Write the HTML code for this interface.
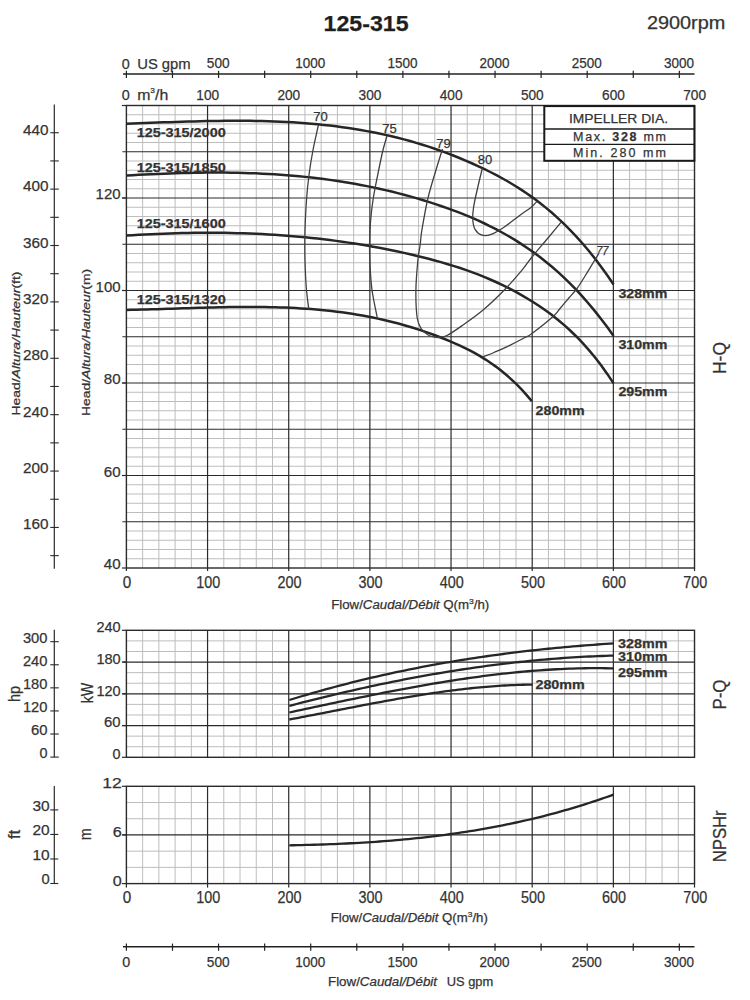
<!DOCTYPE html>
<html><head><meta charset="utf-8"><title>125-315</title>
<style>html,body{margin:0;padding:0;background:#fff;}svg{display:block;font-family:"Liberation Sans", sans-serif;} text{stroke:#333;stroke-width:0.25px;}</style>
</head><body>
<svg width="750" height="1000" viewBox="0 0 750 1000">
<rect width="750" height="1000" fill="#fff"/>
<line x1="142.63" y1="105.50" x2="142.63" y2="568.00" stroke="#bdbdbd" stroke-width="1"/>
<line x1="158.86" y1="105.50" x2="158.86" y2="568.00" stroke="#bdbdbd" stroke-width="1"/>
<line x1="175.10" y1="105.50" x2="175.10" y2="568.00" stroke="#bdbdbd" stroke-width="1"/>
<line x1="191.33" y1="105.50" x2="191.33" y2="568.00" stroke="#bdbdbd" stroke-width="1"/>
<line x1="223.79" y1="105.50" x2="223.79" y2="568.00" stroke="#bdbdbd" stroke-width="1"/>
<line x1="240.02" y1="105.50" x2="240.02" y2="568.00" stroke="#bdbdbd" stroke-width="1"/>
<line x1="256.26" y1="105.50" x2="256.26" y2="568.00" stroke="#bdbdbd" stroke-width="1"/>
<line x1="272.49" y1="105.50" x2="272.49" y2="568.00" stroke="#bdbdbd" stroke-width="1"/>
<line x1="304.95" y1="105.50" x2="304.95" y2="568.00" stroke="#bdbdbd" stroke-width="1"/>
<line x1="321.18" y1="105.50" x2="321.18" y2="568.00" stroke="#bdbdbd" stroke-width="1"/>
<line x1="337.42" y1="105.50" x2="337.42" y2="568.00" stroke="#bdbdbd" stroke-width="1"/>
<line x1="353.65" y1="105.50" x2="353.65" y2="568.00" stroke="#bdbdbd" stroke-width="1"/>
<line x1="386.11" y1="105.50" x2="386.11" y2="568.00" stroke="#bdbdbd" stroke-width="1"/>
<line x1="402.34" y1="105.50" x2="402.34" y2="568.00" stroke="#bdbdbd" stroke-width="1"/>
<line x1="418.58" y1="105.50" x2="418.58" y2="568.00" stroke="#bdbdbd" stroke-width="1"/>
<line x1="434.81" y1="105.50" x2="434.81" y2="568.00" stroke="#bdbdbd" stroke-width="1"/>
<line x1="467.27" y1="105.50" x2="467.27" y2="568.00" stroke="#bdbdbd" stroke-width="1"/>
<line x1="483.50" y1="105.50" x2="483.50" y2="568.00" stroke="#bdbdbd" stroke-width="1"/>
<line x1="499.74" y1="105.50" x2="499.74" y2="568.00" stroke="#bdbdbd" stroke-width="1"/>
<line x1="515.97" y1="105.50" x2="515.97" y2="568.00" stroke="#bdbdbd" stroke-width="1"/>
<line x1="548.43" y1="105.50" x2="548.43" y2="568.00" stroke="#bdbdbd" stroke-width="1"/>
<line x1="564.66" y1="105.50" x2="564.66" y2="568.00" stroke="#bdbdbd" stroke-width="1"/>
<line x1="580.90" y1="105.50" x2="580.90" y2="568.00" stroke="#bdbdbd" stroke-width="1"/>
<line x1="597.13" y1="105.50" x2="597.13" y2="568.00" stroke="#bdbdbd" stroke-width="1"/>
<line x1="629.59" y1="105.50" x2="629.59" y2="568.00" stroke="#bdbdbd" stroke-width="1"/>
<line x1="645.82" y1="105.50" x2="645.82" y2="568.00" stroke="#bdbdbd" stroke-width="1"/>
<line x1="662.06" y1="105.50" x2="662.06" y2="568.00" stroke="#bdbdbd" stroke-width="1"/>
<line x1="678.29" y1="105.50" x2="678.29" y2="568.00" stroke="#bdbdbd" stroke-width="1"/>
<line x1="126.40" y1="558.75" x2="694.52" y2="558.75" stroke="#bdbdbd" stroke-width="1"/>
<line x1="126.40" y1="549.50" x2="694.52" y2="549.50" stroke="#bdbdbd" stroke-width="1"/>
<line x1="126.40" y1="540.25" x2="694.52" y2="540.25" stroke="#bdbdbd" stroke-width="1"/>
<line x1="126.40" y1="531.00" x2="694.52" y2="531.00" stroke="#bdbdbd" stroke-width="1"/>
<line x1="126.40" y1="512.50" x2="694.52" y2="512.50" stroke="#bdbdbd" stroke-width="1"/>
<line x1="126.40" y1="503.25" x2="694.52" y2="503.25" stroke="#bdbdbd" stroke-width="1"/>
<line x1="126.40" y1="494.00" x2="694.52" y2="494.00" stroke="#bdbdbd" stroke-width="1"/>
<line x1="126.40" y1="484.75" x2="694.52" y2="484.75" stroke="#bdbdbd" stroke-width="1"/>
<line x1="126.40" y1="466.25" x2="694.52" y2="466.25" stroke="#bdbdbd" stroke-width="1"/>
<line x1="126.40" y1="457.00" x2="694.52" y2="457.00" stroke="#bdbdbd" stroke-width="1"/>
<line x1="126.40" y1="447.75" x2="694.52" y2="447.75" stroke="#bdbdbd" stroke-width="1"/>
<line x1="126.40" y1="438.50" x2="694.52" y2="438.50" stroke="#bdbdbd" stroke-width="1"/>
<line x1="126.40" y1="420.00" x2="694.52" y2="420.00" stroke="#bdbdbd" stroke-width="1"/>
<line x1="126.40" y1="410.75" x2="694.52" y2="410.75" stroke="#bdbdbd" stroke-width="1"/>
<line x1="126.40" y1="401.50" x2="694.52" y2="401.50" stroke="#bdbdbd" stroke-width="1"/>
<line x1="126.40" y1="392.25" x2="694.52" y2="392.25" stroke="#bdbdbd" stroke-width="1"/>
<line x1="126.40" y1="373.75" x2="694.52" y2="373.75" stroke="#bdbdbd" stroke-width="1"/>
<line x1="126.40" y1="364.50" x2="694.52" y2="364.50" stroke="#bdbdbd" stroke-width="1"/>
<line x1="126.40" y1="355.25" x2="694.52" y2="355.25" stroke="#bdbdbd" stroke-width="1"/>
<line x1="126.40" y1="346.00" x2="694.52" y2="346.00" stroke="#bdbdbd" stroke-width="1"/>
<line x1="126.40" y1="327.50" x2="694.52" y2="327.50" stroke="#bdbdbd" stroke-width="1"/>
<line x1="126.40" y1="318.25" x2="694.52" y2="318.25" stroke="#bdbdbd" stroke-width="1"/>
<line x1="126.40" y1="309.00" x2="694.52" y2="309.00" stroke="#bdbdbd" stroke-width="1"/>
<line x1="126.40" y1="299.75" x2="694.52" y2="299.75" stroke="#bdbdbd" stroke-width="1"/>
<line x1="126.40" y1="281.25" x2="694.52" y2="281.25" stroke="#bdbdbd" stroke-width="1"/>
<line x1="126.40" y1="272.00" x2="694.52" y2="272.00" stroke="#bdbdbd" stroke-width="1"/>
<line x1="126.40" y1="262.75" x2="694.52" y2="262.75" stroke="#bdbdbd" stroke-width="1"/>
<line x1="126.40" y1="253.50" x2="694.52" y2="253.50" stroke="#bdbdbd" stroke-width="1"/>
<line x1="126.40" y1="235.00" x2="694.52" y2="235.00" stroke="#bdbdbd" stroke-width="1"/>
<line x1="126.40" y1="225.75" x2="694.52" y2="225.75" stroke="#bdbdbd" stroke-width="1"/>
<line x1="126.40" y1="216.50" x2="694.52" y2="216.50" stroke="#bdbdbd" stroke-width="1"/>
<line x1="126.40" y1="207.25" x2="694.52" y2="207.25" stroke="#bdbdbd" stroke-width="1"/>
<line x1="126.40" y1="188.75" x2="694.52" y2="188.75" stroke="#bdbdbd" stroke-width="1"/>
<line x1="126.40" y1="179.50" x2="694.52" y2="179.50" stroke="#bdbdbd" stroke-width="1"/>
<line x1="126.40" y1="170.25" x2="694.52" y2="170.25" stroke="#bdbdbd" stroke-width="1"/>
<line x1="126.40" y1="161.00" x2="694.52" y2="161.00" stroke="#bdbdbd" stroke-width="1"/>
<line x1="126.40" y1="142.50" x2="694.52" y2="142.50" stroke="#bdbdbd" stroke-width="1"/>
<line x1="126.40" y1="133.25" x2="694.52" y2="133.25" stroke="#bdbdbd" stroke-width="1"/>
<line x1="126.40" y1="124.00" x2="694.52" y2="124.00" stroke="#bdbdbd" stroke-width="1"/>
<line x1="126.40" y1="114.75" x2="694.52" y2="114.75" stroke="#bdbdbd" stroke-width="1"/>
<line x1="122.40" y1="521.75" x2="694.52" y2="521.75" stroke="#2a2a2a" stroke-width="1.2"/>
<line x1="122.40" y1="475.50" x2="694.52" y2="475.50" stroke="#2a2a2a" stroke-width="1.2"/>
<line x1="122.40" y1="429.25" x2="694.52" y2="429.25" stroke="#2a2a2a" stroke-width="1.2"/>
<line x1="122.40" y1="383.00" x2="694.52" y2="383.00" stroke="#2a2a2a" stroke-width="1.2"/>
<line x1="122.40" y1="336.75" x2="694.52" y2="336.75" stroke="#2a2a2a" stroke-width="1.2"/>
<line x1="122.40" y1="290.50" x2="694.52" y2="290.50" stroke="#2a2a2a" stroke-width="1.2"/>
<line x1="122.40" y1="244.25" x2="694.52" y2="244.25" stroke="#2a2a2a" stroke-width="1.2"/>
<line x1="122.40" y1="198.00" x2="694.52" y2="198.00" stroke="#2a2a2a" stroke-width="1.2"/>
<line x1="122.40" y1="151.75" x2="694.52" y2="151.75" stroke="#2a2a2a" stroke-width="1.2"/>
<line x1="207.56" y1="105.50" x2="207.56" y2="571.00" stroke="#2a2a2a" stroke-width="1.2"/>
<line x1="288.72" y1="105.50" x2="288.72" y2="571.00" stroke="#2a2a2a" stroke-width="1.2"/>
<line x1="369.88" y1="105.50" x2="369.88" y2="571.00" stroke="#2a2a2a" stroke-width="1.2"/>
<line x1="451.04" y1="105.50" x2="451.04" y2="571.00" stroke="#2a2a2a" stroke-width="1.2"/>
<line x1="532.20" y1="105.50" x2="532.20" y2="571.00" stroke="#2a2a2a" stroke-width="1.2"/>
<line x1="613.36" y1="105.50" x2="613.36" y2="571.00" stroke="#2a2a2a" stroke-width="1.2"/>
<rect x="126.40" y="105.50" width="568.12" height="462.50" fill="none" stroke="#2a2a2a" stroke-width="1.4"/>
<line x1="121.90" y1="105.50" x2="126.40" y2="105.50" stroke="#2a2a2a" stroke-width="1.2"/>
<line x1="126.40" y1="568.00" x2="126.40" y2="571.00" stroke="#2a2a2a" stroke-width="1.2"/>
<line x1="694.52" y1="568.00" x2="694.52" y2="571.00" stroke="#2a2a2a" stroke-width="1.2"/>
<path d="M126.40,123.67 L132.57,123.45 L138.73,123.23 L144.90,123.01 L151.07,122.79 L157.24,122.57 L163.40,122.35 L169.57,122.14 L175.74,121.93 L181.90,121.74 L188.07,121.55 L194.24,121.39 L200.41,121.23 L206.57,121.10 L212.74,120.98 L218.91,120.89 L225.07,120.83 L231.24,120.79 L237.41,120.78 L243.57,120.80 L249.74,120.85 L255.91,120.95 L262.08,121.07 L268.24,121.24 L274.41,121.45 L280.58,121.71 L286.74,122.01 L292.91,122.36 L299.08,122.76 L305.25,123.21 L311.41,123.72 L317.58,124.28 L323.75,124.90 L329.91,125.59 L336.08,126.34 L342.25,127.15 L348.42,128.04 L354.58,128.99 L360.75,130.01 L366.92,131.11 L373.08,132.29 L379.25,133.54 L385.42,134.87 L391.58,136.29 L397.75,137.79 L403.92,139.38 L410.09,141.06 L416.25,142.83 L422.42,144.70 L428.59,146.66 L434.75,148.71 L440.92,150.87 L447.09,153.13 L453.26,155.50 L459.42,157.97 L465.59,160.55 L471.76,163.24 L477.92,166.04 L484.09,168.96 L490.26,172.00 L496.43,175.18 L502.59,178.51 L508.76,182.02 L514.93,185.71 L521.09,189.62 L527.26,193.74 L533.43,198.11 L539.59,202.73 L545.76,207.63 L551.93,212.82 L558.10,218.32 L564.26,224.15 L570.43,230.32 L576.60,236.84 L582.76,243.75 L588.93,251.05 L595.10,258.76 L601.27,266.90 L607.43,275.48 L613.60,284.52" fill="none" stroke="#262626" stroke-width="2.5" stroke-linecap="butt"/>
<path d="M126.40,175.58 L132.57,175.22 L138.73,174.87 L144.90,174.54 L151.07,174.24 L157.24,173.95 L163.40,173.69 L169.57,173.45 L175.74,173.24 L181.90,173.05 L188.07,172.89 L194.24,172.76 L200.41,172.67 L206.57,172.60 L212.74,172.57 L218.91,172.57 L225.07,172.60 L231.24,172.68 L237.41,172.79 L243.57,172.94 L249.74,173.13 L255.91,173.36 L262.08,173.64 L268.24,173.96 L274.41,174.33 L280.58,174.74 L286.74,175.20 L292.91,175.71 L299.08,176.27 L305.25,176.88 L311.41,177.55 L317.58,178.27 L323.75,179.04 L329.91,179.87 L336.08,180.76 L342.25,181.71 L348.42,182.72 L354.58,183.79 L360.75,184.92 L366.92,186.12 L373.08,187.38 L379.25,188.72 L385.42,190.11 L391.58,191.58 L397.75,193.12 L403.92,194.73 L410.09,196.41 L416.25,198.17 L422.42,200.00 L428.59,201.91 L434.75,203.90 L440.92,205.96 L447.09,208.11 L453.26,210.35 L459.42,212.69 L465.59,215.14 L471.76,217.72 L477.92,220.42 L484.09,223.26 L490.26,226.26 L496.43,229.41 L502.59,232.74 L508.76,236.24 L514.93,239.93 L521.09,243.83 L527.26,247.93 L533.43,252.27 L539.59,256.85 L545.76,261.68 L551.93,266.79 L558.10,272.18 L564.26,277.88 L570.43,283.89 L576.60,290.23 L582.76,296.91 L588.93,303.95 L595.10,311.36 L601.27,319.15 L607.43,327.35 L613.60,335.96" fill="none" stroke="#262626" stroke-width="2.5" stroke-linecap="butt"/>
<path d="M126.40,235.60 L132.57,235.20 L138.73,234.84 L144.90,234.50 L151.07,234.19 L157.24,233.90 L163.40,233.65 L169.57,233.43 L175.74,233.24 L181.90,233.08 L188.07,232.95 L194.24,232.85 L200.41,232.79 L206.57,232.76 L212.74,232.76 L218.91,232.80 L225.07,232.87 L231.24,232.98 L237.41,233.13 L243.57,233.31 L249.74,233.53 L255.91,233.79 L262.08,234.08 L268.24,234.42 L274.41,234.80 L280.58,235.21 L286.74,235.67 L292.91,236.17 L299.08,236.71 L305.25,237.29 L311.41,237.92 L317.58,238.59 L323.75,239.30 L329.91,240.06 L336.08,240.87 L342.25,241.72 L348.42,242.62 L354.58,243.57 L360.75,244.56 L366.92,245.60 L373.08,246.69 L379.25,247.83 L385.42,249.02 L391.58,250.26 L397.75,251.56 L403.92,252.90 L410.09,254.30 L416.25,255.75 L422.42,257.25 L428.59,258.82 L434.75,260.45 L440.92,262.15 L447.09,263.95 L453.26,265.83 L459.42,267.81 L465.59,269.90 L471.76,272.11 L477.92,274.44 L484.09,276.90 L490.26,279.51 L496.43,282.25 L502.59,285.16 L508.76,288.23 L514.93,291.47 L521.09,294.89 L527.26,298.49 L533.43,302.30 L539.59,306.31 L545.76,310.57 L551.93,315.10 L558.10,319.95 L564.26,325.15 L570.43,330.73 L576.60,336.73 L582.76,343.17 L588.93,350.11 L595.10,357.56 L601.27,365.57 L607.43,374.17 L613.60,383.39" fill="none" stroke="#262626" stroke-width="2.5" stroke-linecap="butt"/>
<path d="M126.40,309.97 L131.53,309.86 L136.66,309.75 L141.79,309.62 L146.93,309.48 L152.06,309.34 L157.19,309.18 L162.32,309.02 L167.45,308.85 L172.58,308.68 L177.72,308.51 L182.85,308.35 L187.98,308.18 L193.11,308.02 L198.24,307.86 L203.37,307.71 L208.51,307.57 L213.64,307.44 L218.77,307.32 L223.90,307.21 L229.03,307.12 L234.16,307.05 L239.30,306.99 L244.43,306.96 L249.56,306.95 L254.69,306.96 L259.82,307.00 L264.95,307.06 L270.09,307.15 L275.22,307.28 L280.35,307.43 L285.48,307.62 L290.61,307.84 L295.74,308.10 L300.88,308.40 L306.01,308.74 L311.14,309.12 L316.27,309.54 L321.40,310.01 L326.53,310.52 L331.67,311.09 L336.80,311.70 L341.93,312.36 L347.06,313.08 L352.19,313.86 L357.32,314.68 L362.46,315.57 L367.59,316.52 L372.72,317.53 L377.85,318.60 L382.98,319.73 L388.11,320.94 L393.25,322.21 L398.38,323.55 L403.51,324.96 L408.64,326.44 L413.77,328.00 L418.90,329.64 L424.04,331.35 L429.17,333.14 L434.30,335.02 L439.43,336.97 L444.56,339.01 L449.69,341.14 L454.83,343.35 L459.96,345.67 L465.09,348.12 L470.22,350.70 L475.35,353.46 L480.48,356.41 L485.62,359.57 L490.75,362.96 L495.88,366.61 L501.01,370.53 L506.14,374.76 L511.27,379.31 L516.41,384.20 L521.54,389.46 L526.67,395.10 L531.80,401.15" fill="none" stroke="#262626" stroke-width="2.5" stroke-linecap="butt"/>
<path d="M318.40,125.00 C316.60,133.33 314.57,141.67 313.00,150.00 C311.43,158.33 310.08,166.67 309.00,175.00 C307.92,183.33 307.17,190.83 306.50,200.00 C305.83,209.17 305.28,221.67 305.00,230.00 C304.72,238.33 304.75,243.33 304.80,250.00 C304.85,256.67 305.02,263.33 305.30,270.00 C305.58,276.67 305.92,283.42 306.50,290.00 C307.08,296.58 308.03,303.00 308.80,309.50" fill="none" stroke="#404040" stroke-width="1.3"/>
<path d="M387.00,136.00 C385.67,140.67 384.38,144.33 383.00,150.00 C381.62,155.67 380.32,162.00 378.70,170.00 C377.08,178.00 374.67,189.33 373.30,198.00 C371.93,206.67 371.12,214.17 370.50,222.00 C369.88,229.83 369.68,237.83 369.60,245.00 C369.52,252.17 369.60,257.50 370.00,265.00 C370.40,272.50 370.78,281.17 372.00,290.00 C373.22,298.83 375.53,308.67 377.30,318.00" fill="none" stroke="#404040" stroke-width="1.3"/>
<path d="M442.50,149.00 C440.33,156.00 438.42,161.83 436.00,170.00 C433.58,178.17 430.35,188.00 428.00,198.00 C425.65,208.00 423.20,222.25 421.90,230.00 C420.60,237.75 420.87,239.50 420.20,244.50 C419.53,249.50 418.62,252.42 417.90,260.00 C417.18,267.58 416.02,280.33 415.90,290.00 C415.78,299.67 416.27,311.50 417.20,318.00 C418.13,324.50 419.53,326.08 421.50,329.00 C423.47,331.92 426.25,334.08 429.00,335.50 C431.75,336.92 435.00,337.50 438.00,337.50 C441.00,337.50 442.88,337.55 447.00,335.50 C451.12,333.45 456.53,329.58 462.70,325.20 C468.87,320.82 476.90,315.23 484.00,309.20 C491.10,303.17 498.90,295.58 505.30,289.00 C511.70,282.42 517.95,275.03 522.40,269.70 C526.85,264.37 527.73,262.28 532.00,257.00 C536.27,251.72 543.17,243.78 548.00,238.00 C552.83,232.22 556.67,227.53 561.00,222.30" fill="none" stroke="#404040" stroke-width="1.3"/>
<path d="M482.40,168.00 C480.80,174.67 479.07,181.47 477.60,188.00 C476.13,194.53 474.40,201.87 473.60,207.20 C472.80,212.53 472.53,216.27 472.80,220.00 C473.07,223.73 473.67,227.07 475.20,229.60 C476.73,232.13 479.33,234.40 482.00,235.20 C484.67,236.00 487.53,235.73 491.20,234.40 C494.87,233.07 499.20,230.40 504.00,227.20 C508.80,224.00 515.47,218.53 520.00,215.20 C524.53,211.87 528.40,209.47 531.20,207.20 C534.00,204.93 534.93,203.47 536.80,201.60" fill="none" stroke="#404040" stroke-width="1.3"/>
<path d="M482.70,357.10 C486.47,355.57 490.00,354.20 494.00,352.50 C498.00,350.80 501.38,349.48 506.70,346.90 C512.02,344.32 521.68,339.22 525.90,337.00 C530.12,334.78 527.57,336.92 532.00,333.60 C536.43,330.28 547.83,321.28 552.50,317.10 C557.17,312.92 557.20,311.77 560.00,308.50 C562.80,305.23 566.47,300.83 569.30,297.50 C572.13,294.17 574.22,292.33 577.00,288.50 C579.78,284.67 583.08,279.17 586.00,274.50 C588.92,269.83 592.47,263.83 594.50,260.50 C596.53,257.17 596.97,256.50 598.20,254.50" fill="none" stroke="#404040" stroke-width="1.3"/>
<text x="320.5" y="121.0" font-size="13" text-anchor="middle" fill="#333">70</text>
<text x="389.5" y="133.0" font-size="13" text-anchor="middle" fill="#333">75</text>
<text x="443.6" y="147.5" font-size="13" text-anchor="middle" fill="#333">79</text>
<text x="485.0" y="163.5" font-size="13" text-anchor="middle" fill="#333">80</text>
<text x="602.3" y="255.3" font-size="13" text-anchor="middle" textLength="12.3" lengthAdjust="spacingAndGlyphs" font-style="italic" fill="#333">77</text>
<text x="136.7" y="136.7" font-size="13" font-weight="bold" textLength="89.0" lengthAdjust="spacingAndGlyphs" fill="#333">125-315/2000</text>
<text x="136.7" y="171.6" font-size="13" font-weight="bold" textLength="89.0" lengthAdjust="spacingAndGlyphs" fill="#333">125-315/1850</text>
<text x="136.7" y="228.2" font-size="13" font-weight="bold" textLength="89.0" lengthAdjust="spacingAndGlyphs" fill="#333">125-315/1600</text>
<text x="136.7" y="303.8" font-size="13" font-weight="bold" textLength="89.0" lengthAdjust="spacingAndGlyphs" fill="#333">125-315/1320</text>
<text x="618.4" y="298.3" font-size="13" font-weight="bold" textLength="49.0" lengthAdjust="spacingAndGlyphs" fill="#333">328mm</text>
<text x="618.4" y="349.1" font-size="13" font-weight="bold" textLength="49.0" lengthAdjust="spacingAndGlyphs" fill="#333">310mm</text>
<text x="618.4" y="395.8" font-size="13" font-weight="bold" textLength="49.0" lengthAdjust="spacingAndGlyphs" fill="#333">295mm</text>
<text x="535.6" y="414.6" font-size="13" font-weight="bold" textLength="49.0" lengthAdjust="spacingAndGlyphs" fill="#333">280mm</text>
<rect x="544.3" y="106.1" width="150.1" height="54.7" fill="#fff" stroke="#1a1a1a" stroke-width="2"/>
<line x1="544.30" y1="129.00" x2="694.40" y2="129.00" stroke="#1a1a1a" stroke-width="1.4"/>
<line x1="544.30" y1="144.40" x2="694.40" y2="144.40" stroke="#1a1a1a" stroke-width="1.4"/>
<text x="569.0" y="122.7" font-size="13" textLength="99.0" lengthAdjust="spacingAndGlyphs" fill="#333">IMPELLER DIA.</text>
<text x="573" y="140.8" font-size="12.5" fill="#333" textLength="93" lengthAdjust="spacing">Max. <tspan font-weight="bold">328</tspan> mm</text>
<text x="573" y="157" font-size="12.5" fill="#333" textLength="93" lengthAdjust="spacing">Min. 280 mm</text>
<line x1="142.63" y1="630.30" x2="142.63" y2="757.30" stroke="#bdbdbd" stroke-width="1"/>
<line x1="158.86" y1="630.30" x2="158.86" y2="757.30" stroke="#bdbdbd" stroke-width="1"/>
<line x1="175.10" y1="630.30" x2="175.10" y2="757.30" stroke="#bdbdbd" stroke-width="1"/>
<line x1="191.33" y1="630.30" x2="191.33" y2="757.30" stroke="#bdbdbd" stroke-width="1"/>
<line x1="223.79" y1="630.30" x2="223.79" y2="757.30" stroke="#bdbdbd" stroke-width="1"/>
<line x1="240.02" y1="630.30" x2="240.02" y2="757.30" stroke="#bdbdbd" stroke-width="1"/>
<line x1="256.26" y1="630.30" x2="256.26" y2="757.30" stroke="#bdbdbd" stroke-width="1"/>
<line x1="272.49" y1="630.30" x2="272.49" y2="757.30" stroke="#bdbdbd" stroke-width="1"/>
<line x1="304.95" y1="630.30" x2="304.95" y2="757.30" stroke="#bdbdbd" stroke-width="1"/>
<line x1="321.18" y1="630.30" x2="321.18" y2="757.30" stroke="#bdbdbd" stroke-width="1"/>
<line x1="337.42" y1="630.30" x2="337.42" y2="757.30" stroke="#bdbdbd" stroke-width="1"/>
<line x1="353.65" y1="630.30" x2="353.65" y2="757.30" stroke="#bdbdbd" stroke-width="1"/>
<line x1="386.11" y1="630.30" x2="386.11" y2="757.30" stroke="#bdbdbd" stroke-width="1"/>
<line x1="402.34" y1="630.30" x2="402.34" y2="757.30" stroke="#bdbdbd" stroke-width="1"/>
<line x1="418.58" y1="630.30" x2="418.58" y2="757.30" stroke="#bdbdbd" stroke-width="1"/>
<line x1="434.81" y1="630.30" x2="434.81" y2="757.30" stroke="#bdbdbd" stroke-width="1"/>
<line x1="467.27" y1="630.30" x2="467.27" y2="757.30" stroke="#bdbdbd" stroke-width="1"/>
<line x1="483.50" y1="630.30" x2="483.50" y2="757.30" stroke="#bdbdbd" stroke-width="1"/>
<line x1="499.74" y1="630.30" x2="499.74" y2="757.30" stroke="#bdbdbd" stroke-width="1"/>
<line x1="515.97" y1="630.30" x2="515.97" y2="757.30" stroke="#bdbdbd" stroke-width="1"/>
<line x1="548.43" y1="630.30" x2="548.43" y2="757.30" stroke="#bdbdbd" stroke-width="1"/>
<line x1="564.66" y1="630.30" x2="564.66" y2="757.30" stroke="#bdbdbd" stroke-width="1"/>
<line x1="580.90" y1="630.30" x2="580.90" y2="757.30" stroke="#bdbdbd" stroke-width="1"/>
<line x1="597.13" y1="630.30" x2="597.13" y2="757.30" stroke="#bdbdbd" stroke-width="1"/>
<line x1="629.59" y1="630.30" x2="629.59" y2="757.30" stroke="#bdbdbd" stroke-width="1"/>
<line x1="645.82" y1="630.30" x2="645.82" y2="757.30" stroke="#bdbdbd" stroke-width="1"/>
<line x1="662.06" y1="630.30" x2="662.06" y2="757.30" stroke="#bdbdbd" stroke-width="1"/>
<line x1="678.29" y1="630.30" x2="678.29" y2="757.30" stroke="#bdbdbd" stroke-width="1"/>
<line x1="126.40" y1="746.72" x2="694.52" y2="746.72" stroke="#bdbdbd" stroke-width="1"/>
<line x1="126.40" y1="736.13" x2="694.52" y2="736.13" stroke="#bdbdbd" stroke-width="1"/>
<line x1="126.40" y1="714.97" x2="694.52" y2="714.97" stroke="#bdbdbd" stroke-width="1"/>
<line x1="126.40" y1="704.38" x2="694.52" y2="704.38" stroke="#bdbdbd" stroke-width="1"/>
<line x1="126.40" y1="683.22" x2="694.52" y2="683.22" stroke="#bdbdbd" stroke-width="1"/>
<line x1="126.40" y1="672.63" x2="694.52" y2="672.63" stroke="#bdbdbd" stroke-width="1"/>
<line x1="126.40" y1="651.47" x2="694.52" y2="651.47" stroke="#bdbdbd" stroke-width="1"/>
<line x1="126.40" y1="640.88" x2="694.52" y2="640.88" stroke="#bdbdbd" stroke-width="1"/>
<line x1="122.40" y1="725.55" x2="694.52" y2="725.55" stroke="#2a2a2a" stroke-width="1.2"/>
<line x1="122.40" y1="693.80" x2="694.52" y2="693.80" stroke="#2a2a2a" stroke-width="1.2"/>
<line x1="122.40" y1="662.05" x2="694.52" y2="662.05" stroke="#2a2a2a" stroke-width="1.2"/>
<line x1="207.56" y1="630.30" x2="207.56" y2="757.30" stroke="#2a2a2a" stroke-width="1.2"/>
<line x1="288.72" y1="630.30" x2="288.72" y2="757.30" stroke="#2a2a2a" stroke-width="1.2"/>
<line x1="369.88" y1="630.30" x2="369.88" y2="757.30" stroke="#2a2a2a" stroke-width="1.2"/>
<line x1="451.04" y1="630.30" x2="451.04" y2="757.30" stroke="#2a2a2a" stroke-width="1.2"/>
<line x1="532.20" y1="630.30" x2="532.20" y2="757.30" stroke="#2a2a2a" stroke-width="1.2"/>
<line x1="613.36" y1="630.30" x2="613.36" y2="757.30" stroke="#2a2a2a" stroke-width="1.2"/>
<rect x="126.40" y="630.30" width="568.12" height="127.00" fill="none" stroke="#2a2a2a" stroke-width="1.4"/>
<path d="M289.30,700.00 L293.41,698.74 L297.52,697.49 L301.63,696.26 L305.74,695.05 L309.85,693.85 L313.96,692.67 L318.07,691.50 L322.18,690.35 L326.29,689.22 L330.40,688.10 L334.51,686.99 L338.62,685.91 L342.73,684.83 L346.84,683.78 L350.95,682.73 L355.06,681.71 L359.17,680.69 L363.28,679.70 L367.39,678.71 L371.50,677.74 L375.61,676.79 L379.72,675.85 L383.83,674.93 L387.94,674.02 L392.05,673.12 L396.16,672.24 L400.27,671.37 L404.38,670.52 L408.49,669.68 L412.60,668.85 L416.71,668.04 L420.82,667.24 L424.93,666.46 L429.04,665.69 L433.15,664.93 L437.26,664.18 L441.37,663.45 L445.48,662.73 L449.59,662.03 L453.71,661.33 L457.82,660.65 L461.93,659.99 L466.04,659.33 L470.15,658.69 L474.26,658.06 L478.37,657.44 L482.48,656.84 L486.59,656.24 L490.70,655.66 L494.81,655.09 L498.92,654.54 L503.03,653.99 L507.14,653.46 L511.25,652.94 L515.36,652.43 L519.47,651.93 L523.58,651.44 L527.69,650.96 L531.80,650.50 L535.91,650.04 L540.02,649.60 L544.13,649.17 L548.24,648.75 L552.35,648.34 L556.46,647.94 L560.57,647.55 L564.68,647.17 L568.79,646.80 L572.90,646.44 L577.01,646.09 L581.12,645.76 L585.23,645.43 L589.34,645.11 L593.45,644.80 L597.56,644.50 L601.67,644.21 L605.78,643.93 L609.89,643.66 L614.00,643.40" fill="none" stroke="#262626" stroke-width="2.3" stroke-linecap="butt"/>
<path d="M289.30,705.90 L293.41,704.83 L297.52,703.76 L301.63,702.70 L305.74,701.66 L309.85,700.62 L313.96,699.59 L318.07,698.57 L322.18,697.56 L326.29,696.56 L330.40,695.57 L334.51,694.59 L338.62,693.61 L342.73,692.65 L346.84,691.70 L350.95,690.76 L355.06,689.83 L359.17,688.91 L363.28,688.00 L367.39,687.10 L371.50,686.21 L375.61,685.33 L379.72,684.47 L383.83,683.61 L387.94,682.77 L392.05,681.93 L396.16,681.11 L400.27,680.30 L404.38,679.49 L408.49,678.70 L412.60,677.93 L416.71,677.16 L420.82,676.41 L424.93,675.66 L429.04,674.93 L433.15,674.21 L437.26,673.50 L441.37,672.81 L445.48,672.12 L449.59,671.45 L453.71,670.79 L457.82,670.15 L461.93,669.51 L466.04,668.89 L470.15,668.28 L474.26,667.69 L478.37,667.10 L482.48,666.53 L486.59,665.98 L490.70,665.43 L494.81,664.90 L498.92,664.38 L503.03,663.88 L507.14,663.39 L511.25,662.91 L515.36,662.44 L519.47,661.99 L523.58,661.56 L527.69,661.13 L531.80,660.73 L535.91,660.33 L540.02,659.95 L544.13,659.58 L548.24,659.23 L552.35,658.89 L556.46,658.57 L560.57,658.26 L564.68,657.97 L568.79,657.69 L572.90,657.42 L577.01,657.17 L581.12,656.94 L585.23,656.72 L589.34,656.51 L593.45,656.32 L597.56,656.15 L601.67,655.99 L605.78,655.84 L609.89,655.71 L614.00,655.60" fill="none" stroke="#262626" stroke-width="2.3" stroke-linecap="butt"/>
<path d="M289.30,712.50 L293.41,711.62 L297.52,710.73 L301.63,709.85 L305.74,708.96 L309.85,708.08 L313.96,707.20 L318.07,706.32 L322.18,705.44 L326.29,704.57 L330.40,703.70 L334.51,702.83 L338.62,701.96 L342.73,701.10 L346.84,700.24 L350.95,699.38 L355.06,698.53 L359.17,697.69 L363.28,696.85 L367.39,696.01 L371.50,695.19 L375.61,694.36 L379.72,693.55 L383.83,692.74 L387.94,691.94 L392.05,691.14 L396.16,690.36 L400.27,689.58 L404.38,688.81 L408.49,688.05 L412.60,687.30 L416.71,686.55 L420.82,685.82 L424.93,685.10 L429.04,684.39 L433.15,683.69 L437.26,683.00 L441.37,682.32 L445.48,681.65 L449.59,680.99 L453.71,680.35 L457.82,679.72 L461.93,679.11 L466.04,678.50 L470.15,677.91 L474.26,677.34 L478.37,676.77 L482.48,676.23 L486.59,675.69 L490.70,675.18 L494.81,674.68 L498.92,674.19 L503.03,673.72 L507.14,673.27 L511.25,672.83 L515.36,672.42 L519.47,672.01 L523.58,671.63 L527.69,671.27 L531.80,670.92 L535.91,670.59 L540.02,670.28 L544.13,670.00 L548.24,669.73 L552.35,669.48 L556.46,669.25 L560.57,669.04 L564.68,668.86 L568.79,668.69 L572.90,668.55 L577.01,668.43 L581.12,668.33 L585.23,668.25 L589.34,668.20 L593.45,668.17 L597.56,668.17 L601.67,668.18 L605.78,668.23 L609.89,668.29 L614.00,668.39" fill="none" stroke="#262626" stroke-width="2.3" stroke-linecap="butt"/>
<path d="M289.30,719.50 L292.38,718.92 L295.46,718.34 L298.54,717.76 L301.61,717.18 L304.69,716.59 L307.77,715.99 L310.85,715.40 L313.93,714.81 L317.01,714.21 L320.08,713.61 L323.16,713.01 L326.24,712.41 L329.32,711.81 L332.40,711.20 L335.48,710.60 L338.56,710.00 L341.63,709.40 L344.71,708.80 L347.79,708.20 L350.87,707.60 L353.95,707.01 L357.03,706.41 L360.11,705.82 L363.18,705.23 L366.26,704.64 L369.34,704.06 L372.42,703.48 L375.50,702.90 L378.58,702.33 L381.65,701.76 L384.73,701.19 L387.81,700.63 L390.89,700.08 L393.97,699.53 L397.05,698.98 L400.13,698.44 L403.20,697.91 L406.28,697.38 L409.36,696.86 L412.44,696.35 L415.52,695.84 L418.60,695.35 L421.67,694.85 L424.75,694.37 L427.83,693.90 L430.91,693.43 L433.99,692.97 L437.07,692.52 L440.15,692.08 L443.22,691.65 L446.30,691.23 L449.38,690.82 L452.46,690.43 L455.54,690.04 L458.62,689.66 L461.69,689.29 L464.77,688.94 L467.85,688.59 L470.93,688.26 L474.01,687.94 L477.09,687.64 L480.17,687.35 L483.24,687.07 L486.32,686.80 L489.40,686.55 L492.48,686.31 L495.56,686.08 L498.64,685.87 L501.72,685.68 L504.79,685.50 L507.87,685.33 L510.95,685.18 L514.03,685.05 L517.11,684.93 L520.19,684.83 L523.26,684.75 L526.34,684.68 L529.42,684.63 L532.50,684.60" fill="none" stroke="#262626" stroke-width="2.3" stroke-linecap="butt"/>
<text x="618.0" y="648.4" font-size="13" font-weight="bold" textLength="49.5" lengthAdjust="spacingAndGlyphs" fill="#333">328mm</text>
<text x="618.0" y="660.6" font-size="13" font-weight="bold" textLength="49.5" lengthAdjust="spacingAndGlyphs" fill="#333">310mm</text>
<text x="618.0" y="676.6" font-size="13" font-weight="bold" textLength="49.5" lengthAdjust="spacingAndGlyphs" fill="#333">295mm</text>
<text x="535.4" y="689.4" font-size="13" font-weight="bold" textLength="49.5" lengthAdjust="spacingAndGlyphs" fill="#333">280mm</text>
<line x1="142.63" y1="786.30" x2="142.63" y2="883.60" stroke="#bdbdbd" stroke-width="1"/>
<line x1="158.86" y1="786.30" x2="158.86" y2="883.60" stroke="#bdbdbd" stroke-width="1"/>
<line x1="175.10" y1="786.30" x2="175.10" y2="883.60" stroke="#bdbdbd" stroke-width="1"/>
<line x1="191.33" y1="786.30" x2="191.33" y2="883.60" stroke="#bdbdbd" stroke-width="1"/>
<line x1="223.79" y1="786.30" x2="223.79" y2="883.60" stroke="#bdbdbd" stroke-width="1"/>
<line x1="240.02" y1="786.30" x2="240.02" y2="883.60" stroke="#bdbdbd" stroke-width="1"/>
<line x1="256.26" y1="786.30" x2="256.26" y2="883.60" stroke="#bdbdbd" stroke-width="1"/>
<line x1="272.49" y1="786.30" x2="272.49" y2="883.60" stroke="#bdbdbd" stroke-width="1"/>
<line x1="304.95" y1="786.30" x2="304.95" y2="883.60" stroke="#bdbdbd" stroke-width="1"/>
<line x1="321.18" y1="786.30" x2="321.18" y2="883.60" stroke="#bdbdbd" stroke-width="1"/>
<line x1="337.42" y1="786.30" x2="337.42" y2="883.60" stroke="#bdbdbd" stroke-width="1"/>
<line x1="353.65" y1="786.30" x2="353.65" y2="883.60" stroke="#bdbdbd" stroke-width="1"/>
<line x1="386.11" y1="786.30" x2="386.11" y2="883.60" stroke="#bdbdbd" stroke-width="1"/>
<line x1="402.34" y1="786.30" x2="402.34" y2="883.60" stroke="#bdbdbd" stroke-width="1"/>
<line x1="418.58" y1="786.30" x2="418.58" y2="883.60" stroke="#bdbdbd" stroke-width="1"/>
<line x1="434.81" y1="786.30" x2="434.81" y2="883.60" stroke="#bdbdbd" stroke-width="1"/>
<line x1="467.27" y1="786.30" x2="467.27" y2="883.60" stroke="#bdbdbd" stroke-width="1"/>
<line x1="483.50" y1="786.30" x2="483.50" y2="883.60" stroke="#bdbdbd" stroke-width="1"/>
<line x1="499.74" y1="786.30" x2="499.74" y2="883.60" stroke="#bdbdbd" stroke-width="1"/>
<line x1="515.97" y1="786.30" x2="515.97" y2="883.60" stroke="#bdbdbd" stroke-width="1"/>
<line x1="548.43" y1="786.30" x2="548.43" y2="883.60" stroke="#bdbdbd" stroke-width="1"/>
<line x1="564.66" y1="786.30" x2="564.66" y2="883.60" stroke="#bdbdbd" stroke-width="1"/>
<line x1="580.90" y1="786.30" x2="580.90" y2="883.60" stroke="#bdbdbd" stroke-width="1"/>
<line x1="597.13" y1="786.30" x2="597.13" y2="883.60" stroke="#bdbdbd" stroke-width="1"/>
<line x1="629.59" y1="786.30" x2="629.59" y2="883.60" stroke="#bdbdbd" stroke-width="1"/>
<line x1="645.82" y1="786.30" x2="645.82" y2="883.60" stroke="#bdbdbd" stroke-width="1"/>
<line x1="662.06" y1="786.30" x2="662.06" y2="883.60" stroke="#bdbdbd" stroke-width="1"/>
<line x1="678.29" y1="786.30" x2="678.29" y2="883.60" stroke="#bdbdbd" stroke-width="1"/>
<line x1="126.40" y1="867.38" x2="694.52" y2="867.38" stroke="#bdbdbd" stroke-width="1"/>
<line x1="126.40" y1="851.17" x2="694.52" y2="851.17" stroke="#bdbdbd" stroke-width="1"/>
<line x1="126.40" y1="818.74" x2="694.52" y2="818.74" stroke="#bdbdbd" stroke-width="1"/>
<line x1="126.40" y1="802.52" x2="694.52" y2="802.52" stroke="#bdbdbd" stroke-width="1"/>
<line x1="122.40" y1="834.95" x2="694.52" y2="834.95" stroke="#2a2a2a" stroke-width="1.2"/>
<line x1="207.56" y1="786.30" x2="207.56" y2="887.60" stroke="#2a2a2a" stroke-width="1.2"/>
<line x1="288.72" y1="786.30" x2="288.72" y2="887.60" stroke="#2a2a2a" stroke-width="1.2"/>
<line x1="369.88" y1="786.30" x2="369.88" y2="887.60" stroke="#2a2a2a" stroke-width="1.2"/>
<line x1="451.04" y1="786.30" x2="451.04" y2="887.60" stroke="#2a2a2a" stroke-width="1.2"/>
<line x1="532.20" y1="786.30" x2="532.20" y2="887.60" stroke="#2a2a2a" stroke-width="1.2"/>
<line x1="613.36" y1="786.30" x2="613.36" y2="887.60" stroke="#2a2a2a" stroke-width="1.2"/>
<rect x="126.40" y="786.30" width="568.12" height="97.30" fill="none" stroke="#2a2a2a" stroke-width="1.4"/>
<line x1="126.40" y1="883.60" x2="126.40" y2="887.60" stroke="#2a2a2a" stroke-width="1.2"/>
<line x1="694.52" y1="883.60" x2="694.52" y2="887.60" stroke="#2a2a2a" stroke-width="1.2"/>
<path d="M289.30,845.30 L293.41,845.23 L297.51,845.15 L301.62,845.06 L305.72,844.96 L309.83,844.86 L313.93,844.74 L318.04,844.62 L322.14,844.49 L326.25,844.35 L330.35,844.19 L334.46,844.03 L338.56,843.86 L342.67,843.68 L346.77,843.48 L350.88,843.27 L354.98,843.06 L359.09,842.83 L363.19,842.59 L367.30,842.33 L371.40,842.06 L375.51,841.79 L379.61,841.49 L383.72,841.19 L387.82,840.87 L391.93,840.53 L396.03,840.19 L400.14,839.82 L404.24,839.45 L408.35,839.05 L412.45,838.65 L416.56,838.22 L420.66,837.79 L424.77,837.33 L428.87,836.86 L432.98,836.37 L437.08,835.87 L441.19,835.35 L445.29,834.81 L449.40,834.25 L453.50,833.68 L457.61,833.09 L461.71,832.48 L465.82,831.85 L469.92,831.20 L474.03,830.53 L478.13,829.85 L482.24,829.14 L486.34,828.41 L490.45,827.67 L494.55,826.90 L498.66,826.11 L502.76,825.31 L506.87,824.48 L510.97,823.62 L515.08,822.75 L519.18,821.86 L523.29,820.94 L527.39,820.00 L531.50,819.04 L535.60,818.05 L539.71,817.04 L543.81,816.01 L547.92,814.95 L552.02,813.87 L556.13,812.77 L560.23,811.64 L564.34,810.48 L568.44,809.30 L572.55,808.10 L576.65,806.87 L580.76,805.61 L584.86,804.33 L588.97,803.02 L593.07,801.68 L597.18,800.32 L601.28,798.93 L605.39,797.51 L609.49,796.07 L613.60,794.59" fill="none" stroke="#262626" stroke-width="2.3" stroke-linecap="butt"/>
<text x="127.1" y="587.8" font-size="16" text-anchor="middle" textLength="8.5" lengthAdjust="spacingAndGlyphs" fill="#333">0</text>
<text x="208.3" y="587.8" font-size="16" text-anchor="middle" textLength="24.0" lengthAdjust="spacingAndGlyphs" fill="#333">100</text>
<text x="289.4" y="587.8" font-size="16" text-anchor="middle" textLength="24.0" lengthAdjust="spacingAndGlyphs" fill="#333">200</text>
<text x="370.6" y="587.8" font-size="16" text-anchor="middle" textLength="24.0" lengthAdjust="spacingAndGlyphs" fill="#333">300</text>
<text x="451.7" y="587.8" font-size="16" text-anchor="middle" textLength="24.0" lengthAdjust="spacingAndGlyphs" fill="#333">400</text>
<text x="532.9" y="587.8" font-size="16" text-anchor="middle" textLength="24.0" lengthAdjust="spacingAndGlyphs" fill="#333">500</text>
<text x="614.1" y="587.8" font-size="16" text-anchor="middle" textLength="24.0" lengthAdjust="spacingAndGlyphs" fill="#333">600</text>
<text x="695.2" y="587.8" font-size="16" text-anchor="middle" textLength="24.0" lengthAdjust="spacingAndGlyphs" fill="#333">700</text>
<text x="127.1" y="903.1" font-size="16" text-anchor="middle" textLength="8.5" lengthAdjust="spacingAndGlyphs" fill="#333">0</text>
<text x="208.3" y="903.1" font-size="16" text-anchor="middle" textLength="24.0" lengthAdjust="spacingAndGlyphs" fill="#333">100</text>
<text x="289.4" y="903.1" font-size="16" text-anchor="middle" textLength="24.0" lengthAdjust="spacingAndGlyphs" fill="#333">200</text>
<text x="370.6" y="903.1" font-size="16" text-anchor="middle" textLength="24.0" lengthAdjust="spacingAndGlyphs" fill="#333">300</text>
<text x="451.7" y="903.1" font-size="16" text-anchor="middle" textLength="24.0" lengthAdjust="spacingAndGlyphs" fill="#333">400</text>
<text x="532.9" y="903.1" font-size="16" text-anchor="middle" textLength="24.0" lengthAdjust="spacingAndGlyphs" fill="#333">500</text>
<text x="614.1" y="903.1" font-size="16" text-anchor="middle" textLength="24.0" lengthAdjust="spacingAndGlyphs" fill="#333">600</text>
<text x="695.2" y="903.1" font-size="16" text-anchor="middle" textLength="24.0" lengthAdjust="spacingAndGlyphs" fill="#333">700</text>
<text x="331.2" y="609.3" font-size="12.5" fill="#333" textLength="158" lengthAdjust="spacingAndGlyphs">Flow/<tspan font-style="italic">Caudal/Débit</tspan> Q(m<tspan font-size="8" dy="-5">3</tspan><tspan dy="5">/h)</tspan></text>
<text x="330.8" y="921.5" font-size="12.5" fill="#333" textLength="157" lengthAdjust="spacingAndGlyphs">Flow/<tspan font-style="italic">Caudal/Débit</tspan> Q(m<tspan font-size="8" dy="-5">3</tspan><tspan dy="5">/h)</tspan></text>
<text x="328" y="985.8" font-size="12.5" fill="#333" textLength="109" lengthAdjust="spacingAndGlyphs">Flow/<tspan font-style="italic">Caudal/Débit</tspan></text>
<text x="446.7" y="985.8" font-size="12.5" textLength="46.5" lengthAdjust="spacingAndGlyphs" fill="#333">US gpm</text>
<line x1="123.00" y1="74.00" x2="694.52" y2="74.00" stroke="#222" stroke-width="1.4"/>
<line x1="126.40" y1="70.80" x2="126.40" y2="78.00" stroke="#222" stroke-width="1.2"/>
<line x1="172.48" y1="70.80" x2="172.48" y2="78.00" stroke="#222" stroke-width="1.2"/>
<line x1="218.56" y1="70.80" x2="218.56" y2="78.00" stroke="#222" stroke-width="1.2"/>
<line x1="264.64" y1="70.80" x2="264.64" y2="78.00" stroke="#222" stroke-width="1.2"/>
<line x1="310.71" y1="70.80" x2="310.71" y2="78.00" stroke="#222" stroke-width="1.2"/>
<line x1="356.79" y1="70.80" x2="356.79" y2="78.00" stroke="#222" stroke-width="1.2"/>
<line x1="402.87" y1="70.80" x2="402.87" y2="78.00" stroke="#222" stroke-width="1.2"/>
<line x1="448.95" y1="70.80" x2="448.95" y2="78.00" stroke="#222" stroke-width="1.2"/>
<line x1="495.03" y1="70.80" x2="495.03" y2="78.00" stroke="#222" stroke-width="1.2"/>
<line x1="541.11" y1="70.80" x2="541.11" y2="78.00" stroke="#222" stroke-width="1.2"/>
<line x1="587.19" y1="70.80" x2="587.19" y2="78.00" stroke="#222" stroke-width="1.2"/>
<line x1="633.26" y1="70.80" x2="633.26" y2="78.00" stroke="#222" stroke-width="1.2"/>
<line x1="679.34" y1="70.80" x2="679.34" y2="78.00" stroke="#222" stroke-width="1.2"/>
<text x="218.2" y="68.3" font-size="15.3" text-anchor="middle" textLength="22.8" lengthAdjust="spacingAndGlyphs" fill="#333">500</text>
<text x="310.3" y="68.3" font-size="15.3" text-anchor="middle" textLength="30.0" lengthAdjust="spacingAndGlyphs" fill="#333">1000</text>
<text x="402.5" y="68.3" font-size="15.3" text-anchor="middle" textLength="30.0" lengthAdjust="spacingAndGlyphs" fill="#333">1500</text>
<text x="494.6" y="68.3" font-size="15.3" text-anchor="middle" textLength="30.0" lengthAdjust="spacingAndGlyphs" fill="#333">2000</text>
<text x="586.8" y="68.3" font-size="15.3" text-anchor="middle" textLength="30.0" lengthAdjust="spacingAndGlyphs" fill="#333">2500</text>
<text x="678.9" y="68.3" font-size="15.3" text-anchor="middle" textLength="30.0" lengthAdjust="spacingAndGlyphs" fill="#333">3000</text>
<line x1="123.00" y1="946.80" x2="694.52" y2="946.80" stroke="#222" stroke-width="1.4"/>
<line x1="126.40" y1="943.60" x2="126.40" y2="950.80" stroke="#222" stroke-width="1.2"/>
<line x1="172.48" y1="943.60" x2="172.48" y2="950.80" stroke="#222" stroke-width="1.2"/>
<line x1="218.56" y1="943.60" x2="218.56" y2="950.80" stroke="#222" stroke-width="1.2"/>
<line x1="264.64" y1="943.60" x2="264.64" y2="950.80" stroke="#222" stroke-width="1.2"/>
<line x1="310.71" y1="943.60" x2="310.71" y2="950.80" stroke="#222" stroke-width="1.2"/>
<line x1="356.79" y1="943.60" x2="356.79" y2="950.80" stroke="#222" stroke-width="1.2"/>
<line x1="402.87" y1="943.60" x2="402.87" y2="950.80" stroke="#222" stroke-width="1.2"/>
<line x1="448.95" y1="943.60" x2="448.95" y2="950.80" stroke="#222" stroke-width="1.2"/>
<line x1="495.03" y1="943.60" x2="495.03" y2="950.80" stroke="#222" stroke-width="1.2"/>
<line x1="541.11" y1="943.60" x2="541.11" y2="950.80" stroke="#222" stroke-width="1.2"/>
<line x1="587.19" y1="943.60" x2="587.19" y2="950.80" stroke="#222" stroke-width="1.2"/>
<line x1="633.26" y1="943.60" x2="633.26" y2="950.80" stroke="#222" stroke-width="1.2"/>
<line x1="679.34" y1="943.60" x2="679.34" y2="950.80" stroke="#222" stroke-width="1.2"/>
<text x="218.2" y="967.2" font-size="15.3" text-anchor="middle" textLength="22.8" lengthAdjust="spacingAndGlyphs" fill="#333">500</text>
<text x="310.3" y="967.2" font-size="15.3" text-anchor="middle" textLength="30.0" lengthAdjust="spacingAndGlyphs" fill="#333">1000</text>
<text x="402.5" y="967.2" font-size="15.3" text-anchor="middle" textLength="30.0" lengthAdjust="spacingAndGlyphs" fill="#333">1500</text>
<text x="494.6" y="967.2" font-size="15.3" text-anchor="middle" textLength="30.0" lengthAdjust="spacingAndGlyphs" fill="#333">2000</text>
<text x="586.8" y="967.2" font-size="15.3" text-anchor="middle" textLength="30.0" lengthAdjust="spacingAndGlyphs" fill="#333">2500</text>
<text x="678.9" y="967.2" font-size="15.3" text-anchor="middle" textLength="30.0" lengthAdjust="spacingAndGlyphs" fill="#333">3000</text>
<text x="126.2" y="967.2" font-size="15.3" text-anchor="middle" textLength="8.0" lengthAdjust="spacingAndGlyphs" fill="#333">0</text>
<text x="121.8" y="68.5" font-size="15.3" textLength="8.0" lengthAdjust="spacingAndGlyphs" fill="#333">0</text>
<text x="137.2" y="68.5" font-size="15.3" textLength="53.5" lengthAdjust="spacingAndGlyphs" fill="#333">US gpm</text>
<text x="121.8" y="99.6" font-size="15.3" textLength="8.0" lengthAdjust="spacingAndGlyphs" fill="#333">0</text>
<text x="137.2" y="99.6" font-size="15.3" fill="#333" textLength="31" lengthAdjust="spacingAndGlyphs">m<tspan font-size="8" dy="-6.5">3</tspan><tspan dy="6.5">/h</tspan></text>
<text x="207.7" y="100.2" font-size="15.3" text-anchor="middle" textLength="22.8" lengthAdjust="spacingAndGlyphs" fill="#333">100</text>
<text x="288.8" y="100.2" font-size="15.3" text-anchor="middle" textLength="22.8" lengthAdjust="spacingAndGlyphs" fill="#333">200</text>
<text x="370.0" y="100.2" font-size="15.3" text-anchor="middle" textLength="22.8" lengthAdjust="spacingAndGlyphs" fill="#333">300</text>
<text x="451.1" y="100.2" font-size="15.3" text-anchor="middle" textLength="22.8" lengthAdjust="spacingAndGlyphs" fill="#333">400</text>
<text x="532.3" y="100.2" font-size="15.3" text-anchor="middle" textLength="22.8" lengthAdjust="spacingAndGlyphs" fill="#333">500</text>
<text x="613.5" y="100.2" font-size="15.3" text-anchor="middle" textLength="22.8" lengthAdjust="spacingAndGlyphs" fill="#333">600</text>
<text x="694.6" y="100.2" font-size="15.3" text-anchor="middle" textLength="22.8" lengthAdjust="spacingAndGlyphs" fill="#333">700</text>
<text x="323.6" y="31.2" font-size="22" font-weight="bold" textLength="85.0" lengthAdjust="spacingAndGlyphs" fill="#1e1e1e">125-315</text>
<text x="646.9" y="28.8" font-size="17.5" textLength="78.4" lengthAdjust="spacingAndGlyphs" fill="#333">2900rpm</text>
<line x1="121.90" y1="198.00" x2="126.40" y2="198.00" stroke="#2a2a2a" stroke-width="1.2"/>
<text x="120.6" y="199.3" font-size="15.3" text-anchor="end" textLength="25.0" lengthAdjust="spacingAndGlyphs" fill="#333">120</text>
<line x1="121.90" y1="290.50" x2="126.40" y2="290.50" stroke="#2a2a2a" stroke-width="1.2"/>
<text x="120.6" y="291.8" font-size="15.3" text-anchor="end" textLength="25.0" lengthAdjust="spacingAndGlyphs" fill="#333">100</text>
<line x1="121.90" y1="383.00" x2="126.40" y2="383.00" stroke="#2a2a2a" stroke-width="1.2"/>
<text x="120.6" y="384.3" font-size="15.3" text-anchor="end" textLength="16.8" lengthAdjust="spacingAndGlyphs" fill="#333">80</text>
<line x1="121.90" y1="475.50" x2="126.40" y2="475.50" stroke="#2a2a2a" stroke-width="1.2"/>
<text x="120.6" y="476.8" font-size="15.3" text-anchor="end" textLength="16.8" lengthAdjust="spacingAndGlyphs" fill="#333">60</text>
<line x1="121.90" y1="568.00" x2="126.40" y2="568.00" stroke="#2a2a2a" stroke-width="1.2"/>
<text x="120.6" y="569.3" font-size="15.3" text-anchor="end" textLength="16.8" lengthAdjust="spacingAndGlyphs" fill="#333">40</text>
<line x1="54.30" y1="104.60" x2="54.30" y2="568.70" stroke="#2a2a2a" stroke-width="1.2"/>
<line x1="50.30" y1="555.64" x2="58.80" y2="555.64" stroke="#2a2a2a" stroke-width="1.1"/>
<line x1="50.30" y1="527.45" x2="58.80" y2="527.45" stroke="#2a2a2a" stroke-width="1.1"/>
<line x1="50.30" y1="499.25" x2="58.80" y2="499.25" stroke="#2a2a2a" stroke-width="1.1"/>
<line x1="50.30" y1="471.06" x2="58.80" y2="471.06" stroke="#2a2a2a" stroke-width="1.1"/>
<line x1="50.30" y1="442.87" x2="58.80" y2="442.87" stroke="#2a2a2a" stroke-width="1.1"/>
<line x1="50.30" y1="414.67" x2="58.80" y2="414.67" stroke="#2a2a2a" stroke-width="1.1"/>
<line x1="50.30" y1="386.48" x2="58.80" y2="386.48" stroke="#2a2a2a" stroke-width="1.1"/>
<line x1="50.30" y1="358.28" x2="58.80" y2="358.28" stroke="#2a2a2a" stroke-width="1.1"/>
<line x1="50.30" y1="330.09" x2="58.80" y2="330.09" stroke="#2a2a2a" stroke-width="1.1"/>
<line x1="50.30" y1="301.90" x2="58.80" y2="301.90" stroke="#2a2a2a" stroke-width="1.1"/>
<line x1="50.30" y1="273.70" x2="58.80" y2="273.70" stroke="#2a2a2a" stroke-width="1.1"/>
<line x1="50.30" y1="245.51" x2="58.80" y2="245.51" stroke="#2a2a2a" stroke-width="1.1"/>
<line x1="50.30" y1="217.31" x2="58.80" y2="217.31" stroke="#2a2a2a" stroke-width="1.1"/>
<line x1="50.30" y1="189.12" x2="58.80" y2="189.12" stroke="#2a2a2a" stroke-width="1.1"/>
<line x1="50.30" y1="160.93" x2="58.80" y2="160.93" stroke="#2a2a2a" stroke-width="1.1"/>
<line x1="50.30" y1="132.73" x2="58.80" y2="132.73" stroke="#2a2a2a" stroke-width="1.1"/>
<text x="48.6" y="529.4" font-size="15.3" text-anchor="end" textLength="25.5" lengthAdjust="spacingAndGlyphs" fill="#333">160</text>
<text x="48.6" y="473.1" font-size="15.3" text-anchor="end" textLength="25.5" lengthAdjust="spacingAndGlyphs" fill="#333">200</text>
<text x="48.6" y="416.7" font-size="15.3" text-anchor="end" textLength="25.5" lengthAdjust="spacingAndGlyphs" fill="#333">240</text>
<text x="48.6" y="360.3" font-size="15.3" text-anchor="end" textLength="25.5" lengthAdjust="spacingAndGlyphs" fill="#333">280</text>
<text x="48.6" y="303.9" font-size="15.3" text-anchor="end" textLength="25.5" lengthAdjust="spacingAndGlyphs" fill="#333">320</text>
<text x="48.6" y="247.5" font-size="15.3" text-anchor="end" textLength="25.5" lengthAdjust="spacingAndGlyphs" fill="#333">360</text>
<text x="48.6" y="191.1" font-size="15.3" text-anchor="end" textLength="25.5" lengthAdjust="spacingAndGlyphs" fill="#333">400</text>
<text x="48.6" y="134.7" font-size="15.3" text-anchor="end" textLength="25.5" lengthAdjust="spacingAndGlyphs" fill="#333">440</text>
<line x1="121.90" y1="630.30" x2="126.40" y2="630.30" stroke="#2a2a2a" stroke-width="1.2"/>
<text x="120.6" y="632.1" font-size="15.3" text-anchor="end" textLength="24.2" lengthAdjust="spacingAndGlyphs" fill="#333">240</text>
<line x1="121.90" y1="662.05" x2="126.40" y2="662.05" stroke="#2a2a2a" stroke-width="1.2"/>
<text x="120.6" y="663.8" font-size="15.3" text-anchor="end" textLength="24.2" lengthAdjust="spacingAndGlyphs" fill="#333">180</text>
<line x1="121.90" y1="693.80" x2="126.40" y2="693.80" stroke="#2a2a2a" stroke-width="1.2"/>
<text x="120.6" y="695.6" font-size="15.3" text-anchor="end" textLength="24.2" lengthAdjust="spacingAndGlyphs" fill="#333">120</text>
<line x1="121.90" y1="725.55" x2="126.40" y2="725.55" stroke="#2a2a2a" stroke-width="1.2"/>
<text x="120.6" y="727.3" font-size="15.3" text-anchor="end" textLength="16.5" lengthAdjust="spacingAndGlyphs" fill="#333">60</text>
<line x1="121.90" y1="757.30" x2="126.40" y2="757.30" stroke="#2a2a2a" stroke-width="1.2"/>
<text x="120.6" y="759.1" font-size="15.3" text-anchor="end" textLength="8.0" lengthAdjust="spacingAndGlyphs" fill="#333">0</text>
<line x1="54.30" y1="629.70" x2="54.30" y2="757.20" stroke="#2a2a2a" stroke-width="1.2"/>
<line x1="50.30" y1="757.10" x2="58.80" y2="757.10" stroke="#2a2a2a" stroke-width="1.1"/>
<text x="47.4" y="758.3" font-size="15.3" text-anchor="end" textLength="8.0" lengthAdjust="spacingAndGlyphs" fill="#333">0</text>
<line x1="50.30" y1="734.02" x2="58.80" y2="734.02" stroke="#2a2a2a" stroke-width="1.1"/>
<text x="47.4" y="735.2" font-size="15.3" text-anchor="end" textLength="16.5" lengthAdjust="spacingAndGlyphs" fill="#333">60</text>
<line x1="50.30" y1="710.94" x2="58.80" y2="710.94" stroke="#2a2a2a" stroke-width="1.1"/>
<text x="47.4" y="712.1" font-size="15.3" text-anchor="end" textLength="24.5" lengthAdjust="spacingAndGlyphs" fill="#333">120</text>
<line x1="50.30" y1="687.85" x2="58.80" y2="687.85" stroke="#2a2a2a" stroke-width="1.1"/>
<text x="47.4" y="689.1" font-size="15.3" text-anchor="end" textLength="24.5" lengthAdjust="spacingAndGlyphs" fill="#333">180</text>
<line x1="50.30" y1="664.77" x2="58.80" y2="664.77" stroke="#2a2a2a" stroke-width="1.1"/>
<text x="47.4" y="666.0" font-size="15.3" text-anchor="end" textLength="24.5" lengthAdjust="spacingAndGlyphs" fill="#333">240</text>
<line x1="50.30" y1="641.69" x2="58.80" y2="641.69" stroke="#2a2a2a" stroke-width="1.1"/>
<text x="47.4" y="642.9" font-size="15.3" text-anchor="end" textLength="24.5" lengthAdjust="spacingAndGlyphs" fill="#333">300</text>
<line x1="121.90" y1="786.30" x2="126.40" y2="786.30" stroke="#2a2a2a" stroke-width="1.2"/>
<text x="121.8" y="788.3" font-size="15.3" text-anchor="end" textLength="19.5" lengthAdjust="spacingAndGlyphs" fill="#333">12</text>
<line x1="121.90" y1="834.95" x2="126.40" y2="834.95" stroke="#2a2a2a" stroke-width="1.2"/>
<text x="121.8" y="837.0" font-size="15.3" text-anchor="end" textLength="9.0" lengthAdjust="spacingAndGlyphs" fill="#333">6</text>
<line x1="121.90" y1="883.60" x2="126.40" y2="883.60" stroke="#2a2a2a" stroke-width="1.2"/>
<text x="121.8" y="885.6" font-size="15.3" text-anchor="end" textLength="9.0" lengthAdjust="spacingAndGlyphs" fill="#333">0</text>
<line x1="54.30" y1="786.00" x2="54.30" y2="883.50" stroke="#2a2a2a" stroke-width="1.2"/>
<line x1="50.30" y1="883.50" x2="58.30" y2="883.50" stroke="#2a2a2a" stroke-width="1.1"/>
<text x="49.6" y="884.3" font-size="15.3" text-anchor="end" textLength="8.2" lengthAdjust="spacingAndGlyphs" fill="#333">0</text>
<line x1="50.30" y1="858.97" x2="58.30" y2="858.97" stroke="#2a2a2a" stroke-width="1.1"/>
<text x="49.6" y="859.8" font-size="15.3" text-anchor="end" textLength="17.2" lengthAdjust="spacingAndGlyphs" fill="#333">10</text>
<line x1="50.30" y1="834.44" x2="58.30" y2="834.44" stroke="#2a2a2a" stroke-width="1.1"/>
<text x="49.6" y="835.2" font-size="15.3" text-anchor="end" textLength="17.2" lengthAdjust="spacingAndGlyphs" fill="#333">20</text>
<line x1="50.30" y1="809.91" x2="58.30" y2="809.91" stroke="#2a2a2a" stroke-width="1.1"/>
<text x="49.6" y="810.7" font-size="15.3" text-anchor="end" textLength="17.2" lengthAdjust="spacingAndGlyphs" fill="#333">30</text>
<text transform="translate(19.6,343.5) rotate(-90)" x="0" y="0" font-size="11" text-anchor="middle" fill="#333" textLength="144" lengthAdjust="spacingAndGlyphs">Head/<tspan font-style="italic">Altura/Hauteur</tspan>(ft)</text>
<text transform="translate(90,342.4) rotate(-90)" x="0" y="0" font-size="11" text-anchor="middle" fill="#333" textLength="147" lengthAdjust="spacingAndGlyphs">Head/<tspan font-style="italic">Altura/Hauteur</tspan>(m)</text>
<text transform="translate(725.6,358) rotate(-90)" x="0" y="0" font-size="18.5" text-anchor="middle" fill="#333" textLength="32" lengthAdjust="spacingAndGlyphs">H-Q</text>
<text transform="translate(725.6,694.5) rotate(-90)" x="0" y="0" font-size="18.5" text-anchor="middle" fill="#333" textLength="30" lengthAdjust="spacingAndGlyphs">P-Q</text>
<text transform="translate(725.6,836.3) rotate(-90)" x="0" y="0" font-size="18" text-anchor="middle" fill="#333" textLength="52" lengthAdjust="spacingAndGlyphs">NPSHr</text>
<text transform="translate(20,694) rotate(-90)" x="0" y="0" font-size="16" text-anchor="middle" fill="#333" textLength="16" lengthAdjust="spacingAndGlyphs">hp</text>
<text transform="translate(93,693) rotate(-90)" x="0" y="0" font-size="16" text-anchor="middle" fill="#333" textLength="20.6" lengthAdjust="spacingAndGlyphs">kW</text>
<text transform="translate(20,834.4) rotate(-90)" x="0" y="0" font-size="16" text-anchor="middle" fill="#333" textLength="9.3" lengthAdjust="spacingAndGlyphs">ft</text>
<text transform="translate(90.7,834.3) rotate(-90)" x="0" y="0" font-size="16" text-anchor="middle" fill="#333" textLength="12" lengthAdjust="spacingAndGlyphs">m</text>
</svg>
</body></html>
